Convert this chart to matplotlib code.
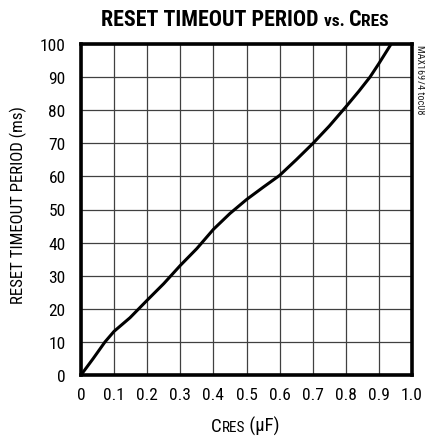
import matplotlib
matplotlib.use('Agg')
import matplotlib.pyplot as plt
from matplotlib import font_manager as fm

names = set(f.name for f in fm.fontManager.ttflist)
narrow = [n for n in ['Liberation Sans Narrow', 'Roboto Condensed', 'Open Sans Condensed'] if n in names]
plt.rcParams['font.family'] = narrow + ['Liberation Sans', 'DejaVu Sans']

# data
c_res = [0.0, 0.037, 0.0725, 0.10, 0.148, 0.20, 0.25, 0.30, 0.35, 0.40, 0.45,
         0.50, 0.55, 0.60, 0.65, 0.70, 0.75, 0.80, 0.84, 0.873, 0.90, 0.937]
period = [0.0, 5.0, 10.0, 13.2, 17.3, 22.6, 27.6, 33.1, 38.2, 44.0, 48.8,
          53.0, 56.7, 60.3, 65.0, 69.9, 75.2, 81.0, 85.8, 90.0, 94.1, 100.0]
xticks = [0, 0.1, 0.2, 0.3, 0.4, 0.5, 0.6, 0.7, 0.8, 0.9, 1.0]
xticklabels = ['0', '0.1', '0.2', '0.3', '0.4', '0.5', '0.6', '0.7', '0.8', '0.9', '1.0']
yticks = list(range(0, 101, 10))

fig = plt.figure(figsize=(4.25, 4.39), dpi=100)
ax = fig.add_axes([81 / 425, 1 - 376 / 439, 331 / 425, 331 / 439])

ax.plot(c_res, period, color='black', lw=2.2, zorder=5,
        solid_capstyle='butt', solid_joinstyle='round')
ax.set_xlim(0, 1.0)
ax.set_ylim(0, 100)
ax.set_xticks(xticks)
ax.set_xticklabels(xticklabels)
ax.set_yticks(yticks)
ax.tick_params(length=0, labelsize=12.5)
ax.tick_params(axis='y', pad=11)
ax.tick_params(axis='x', pad=9)
ax.grid(True, color='#404040', lw=0.9)
for s in ax.spines.values():
    s.set_linewidth(2.6)
    s.set_color('black')
    s.set_zorder(6)

ax.set_ylabel('RESET TIMEOUT PERIOD (ms)', fontsize=12.2)
ax.yaxis.set_label_coords((27 - 81) / 331, (376 - 205) / 331)


def chunks(parts, x, y, weight='normal'):
    # draw pieces of text next to each other on one baseline, centred on x
    fig.canvas.draw()
    r = fig.canvas.get_renderer()
    widths = []
    objs = []
    for txt, size in parts:
        t = fig.text(0, 0, txt, fontsize=size, weight=weight, va='baseline')
        widths.append(t.get_window_extent(r).width)
        objs.append(t)
    x0 = x * fig.bbox.width - sum(widths) / 2
    for t, w in zip(objs, widths):
        t.set_transform(None)
        t.set_position((x0, y * fig.bbox.height))
        x0 += w


chunks([('RESET TIMEOUT PERIOD ', 15.8), ('vs. ', 12.5), ('C', 15.8), ('RES', 12.5)],
       245 / 425, 1 - 26 / 439, weight='bold')
chunks([('C', 13.5), ('RES', 11), (' (μF)', 13.5)], 245.5 / 425, 1 - 432 / 439)

fig.text(420 / 425, 1 - 45 / 439, 'MAX16974 toc08', rotation=270,
         fontsize=7.3, ha='center', va='top', color='#222222')

fig.savefig('out.png', dpi=100)
